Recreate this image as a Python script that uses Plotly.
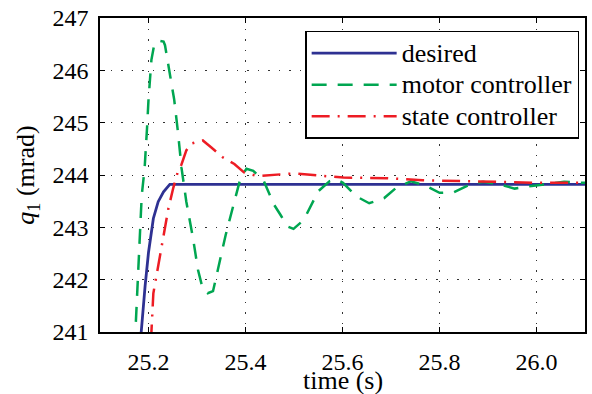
import plotly.graph_objects as go

# ---- data ----
t_desired = [25.180, 25.185, 25.193, 25.200, 25.210, 25.220, 25.231, 25.244, 26.100]
q_desired = [240.60, 241.00, 241.88, 242.52, 243.17, 243.49, 243.68, 243.82, 243.82]

t_motor = [25.169, 25.173, 25.186, 25.192, 25.197, 25.200, 25.206, 25.212, 25.220, 25.231,
           25.234, 25.244, 25.253, 25.261, 25.268, 25.278, 25.292, 25.302, 25.312, 25.322,
           25.333, 25.343, 25.359, 25.377, 25.390, 25.402, 25.416, 25.438, 25.459, 25.472,
           25.486, 25.499, 25.520, 25.550, 25.573, 25.588, 25.601, 25.629, 25.655, 25.686,
           25.710, 25.741, 25.771, 25.800, 25.829, 25.863, 25.890, 25.924, 25.955, 25.990,
           26.022, 26.057, 26.100]
q_motor = [240.70, 241.00, 243.60, 244.13, 244.90, 245.44, 246.20, 246.50, 246.57, 246.55,
           246.48, 245.90, 245.44, 244.80, 244.14, 243.49, 242.78, 242.19, 241.82, 241.74,
           241.78, 242.19, 242.85, 243.49, 243.95, 244.12, 244.08, 243.88, 243.43, 243.24,
           243.02, 242.97, 243.14, 243.69, 243.88, 243.92, 243.85, 243.59, 243.46, 243.56,
           243.75, 243.88, 243.80, 243.66, 243.67, 243.82, 243.87, 243.82, 243.74, 243.79,
           243.83, 243.87, 243.85]

t_state = [25.204, 25.206, 25.210, 25.220, 25.231, 25.241, 25.251, 25.261, 25.268, 25.278,
           25.288, 25.312, 25.329, 25.353, 25.377, 25.397, 25.424, 25.451, 25.479, 25.499,
           25.602, 25.690, 25.765, 25.846, 25.928, 26.010, 26.100]
q_state = [240.80, 241.00, 241.74, 242.27, 242.85, 243.36, 243.75, 244.08, 244.20, 244.47,
           244.60, 244.66, 244.53, 244.34, 244.21, 244.05, 243.98, 244.00, 244.01, 244.03,
           243.95, 243.94, 243.90, 243.88, 243.86, 243.85, 243.85]

series_names = ["desired", "motor controller", "state controller"]
x_ticks = [25.2, 25.4, 25.6, 25.8, 26.0]
y_ticks = [241, 242, 243, 244, 245, 246, 247]

FONT = "Liberation Serif"


def legend_label(name):
    return "<span style='font-size:26px'>" + name + "</span>"


fig = go.Figure()
fig.add_trace(go.Scatter(x=t_desired, y=q_desired, mode="lines",
                         name=legend_label(series_names[0]),
                         line=dict(color="#2E3192", width=2.8)))
fig.add_trace(go.Scatter(x=t_motor, y=q_motor, mode="lines",
                         name=legend_label(series_names[1]),
                         line=dict(color="#00A651", width=2.5, dash="15px,11px")))
fig.add_trace(go.Scatter(x=t_state, y=q_state, mode="lines",
                         name=legend_label(series_names[2]),
                         line=dict(color="#ED1C24", width=2.5, dash="18px,8px,2px,8px")))

axis_common = dict(showline=True, linecolor="black", linewidth=1.5, mirror="ticks",
                   ticks="inside", ticklen=5, tickwidth=1, tickcolor="black",
                   showgrid=True, gridcolor="#333", gridwidth=1, griddash="1.5px,9px",
                   zeroline=False, tickfont=dict(family=FONT, size=24, color="black"))

fig.update_xaxes(range=[25.1, 26.1], tickvals=x_ticks, tickformat=".1f",
                 ticklabelstandoff=7, **axis_common)
fig.update_yaxes(range=[241, 247], tickvals=y_ticks, ticklabelstandoff=5,
                 title=dict(text="<i>q</i><sub>1</sub> (mrad)",
                            font=dict(family=FONT, size=26, color="black"), standoff=10),
                 **axis_common)

fig.add_annotation(text="time (s)", xref="paper", yref="paper", x=0.5, y=-0.154,
                   xanchor="center", yanchor="middle", showarrow=False,
                   font=dict(family=FONT, size=26, color="black"))

fig.update_layout(
    width=592, height=394,
    margin=dict(l=100, r=5, t=17, b=62),
    plot_bgcolor="white", paper_bgcolor="white",
    font=dict(family=FONT, size=24, color="black"),
    legend=dict(x=0.423, y=0.959, xanchor="left", yanchor="top",
                bgcolor="white", bordercolor="black", borderwidth=1.5,
                font=dict(family=FONT, size=22, color="black"),
                itemwidth=85, tracegroupgap=0),
    showlegend=True,
)

fig.write_html("out.html", config={"displayModeBar": False},
               post_script="document.body.style.margin='0px';")
